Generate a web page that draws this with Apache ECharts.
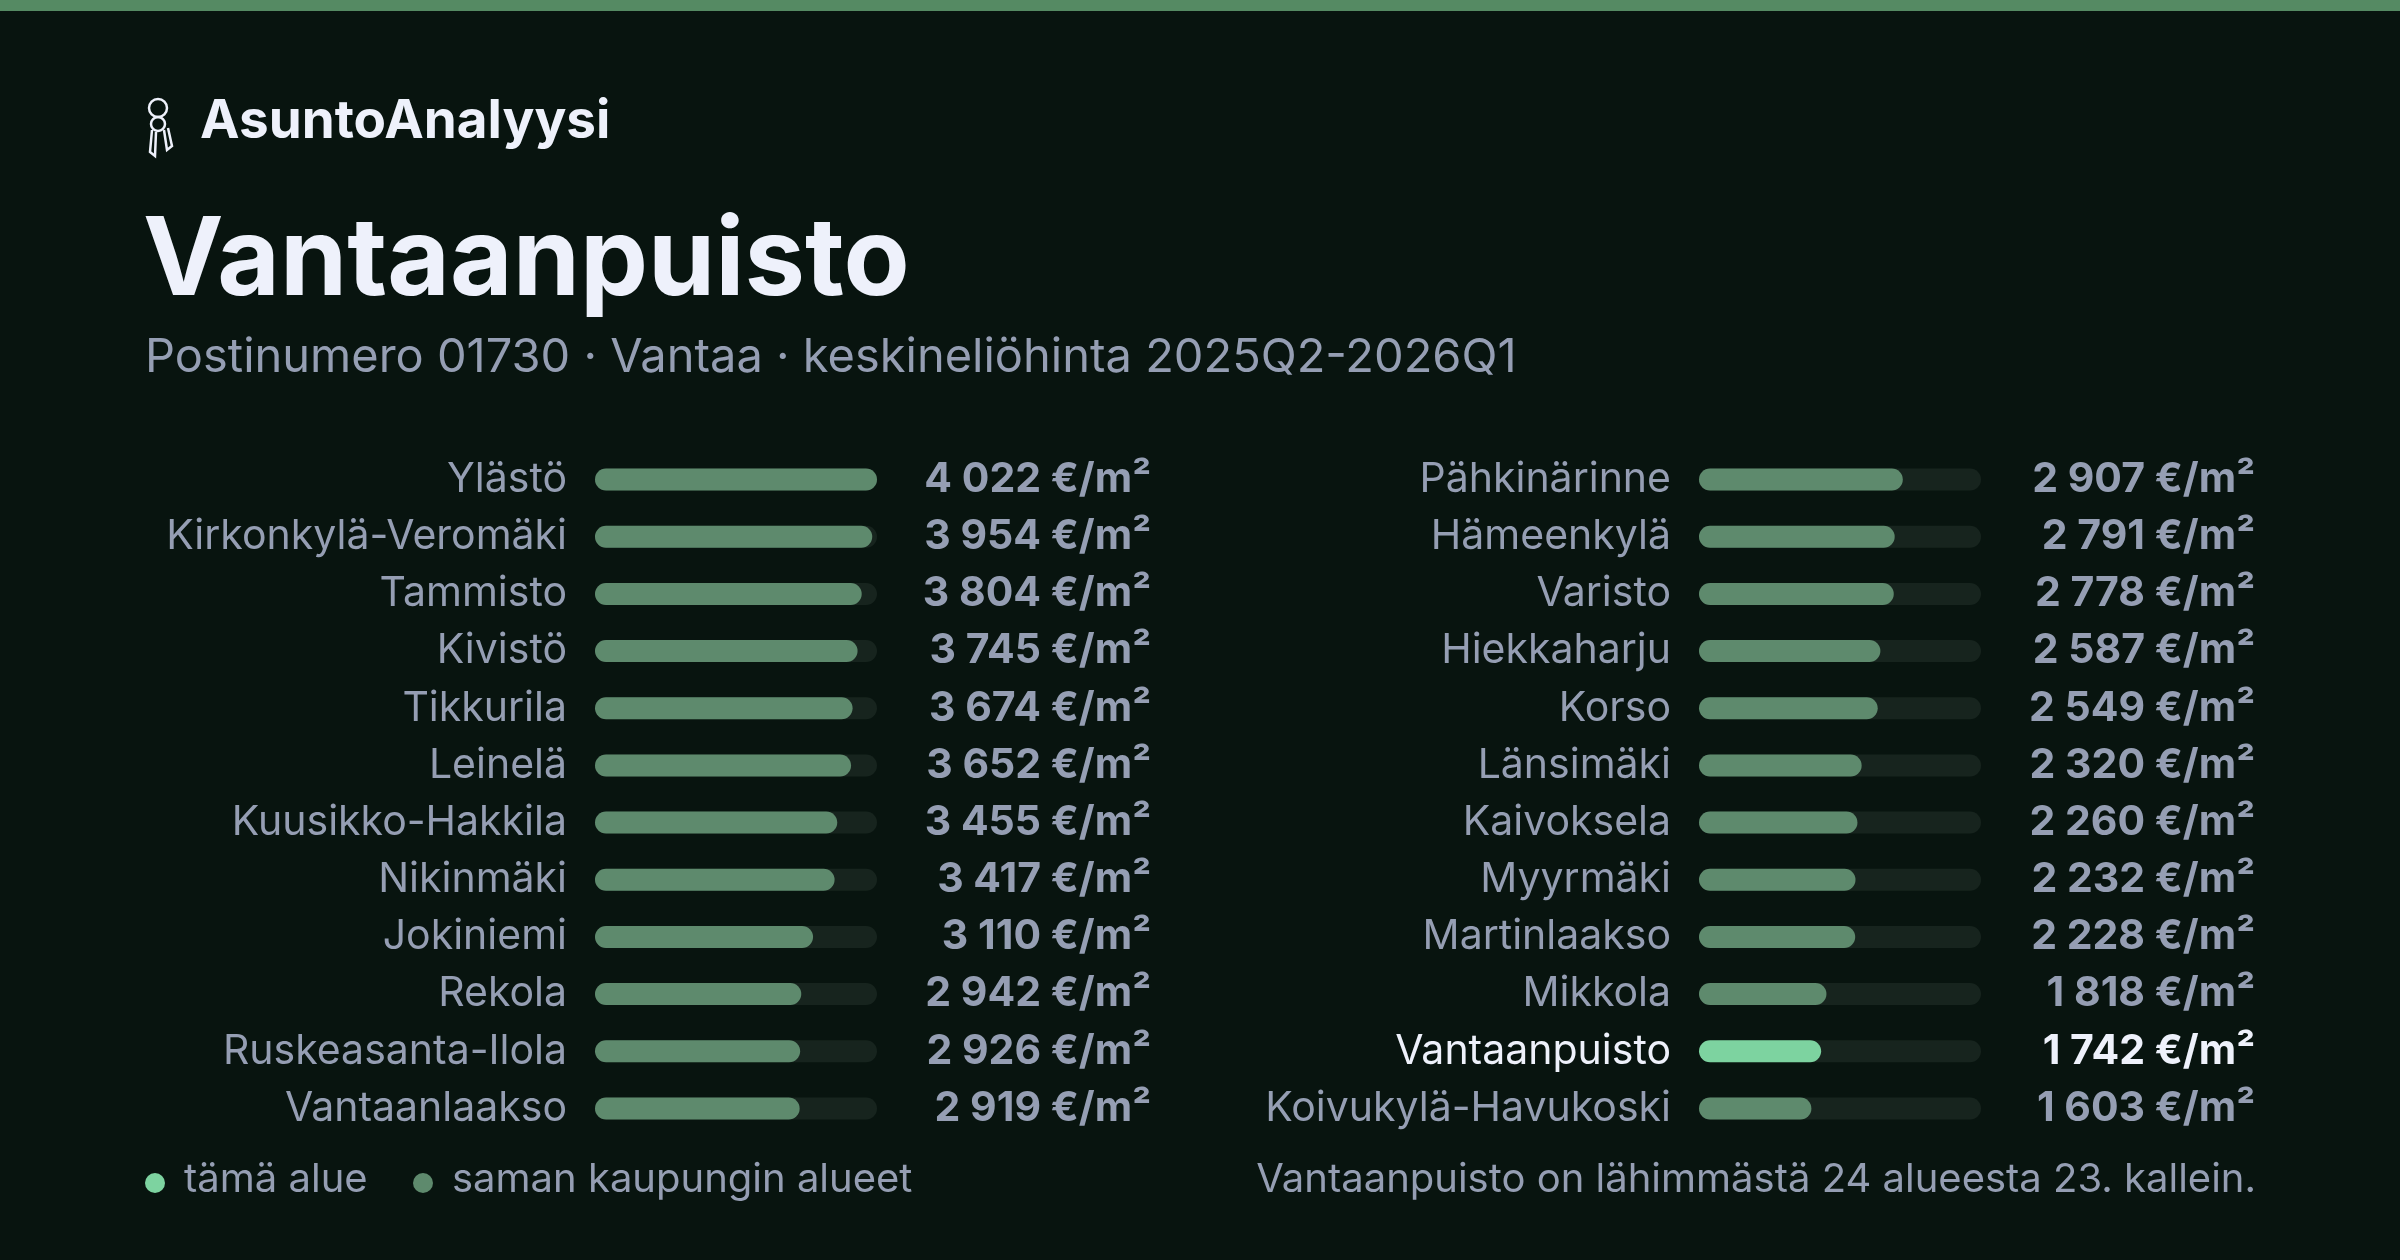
<!DOCTYPE html>
<html>
<head>
<meta charset="utf-8">
<script src="https://cdn.jsdelivr.net/npm/echarts@6/dist/echarts.min.js"></script>
<style>
  html, body { margin: 0; padding: 0; background: #08140f; }
  #main { width: 2400px; height: 1260px; }
</style>
</head>
<body>
<div id="main"></div>
<script>
// data
const leftNames = ['Ylästö', 'Kirkonkylä-Veromäki', 'Tammisto', 'Kivistö', 'Tikkurila', 'Leinelä',
  'Kuusikko-Hakkila', 'Nikinmäki', 'Jokiniemi', 'Rekola', 'Ruskeasanta-Ilola', 'Vantaanlaakso'];
const leftValues = [4022, 3954, 3804, 3745, 3674, 3652, 3455, 3417, 3110, 2942, 2926, 2919];
const rightNames = ['Pähkinärinne', 'Hämeenkylä', 'Varisto', 'Hiekkaharju', 'Korso', 'Länsimäki',
  'Kaivoksela', 'Myyrmäki', 'Martinlaakso', 'Mikkola', 'Vantaanpuisto', 'Koivukylä-Havukoski'];
const rightValues = [2907, 2791, 2778, 2587, 2549, 2320, 2260, 2232, 2228, 1818, 1742, 1603];
const current = 'Vantaanpuisto';
const maxValue = 4022;

const FONT = 'Inter, "Noto Sans", sans-serif';
const GREY = '#959eb3';
const WHITE = '#eef1fb';
const BAR = '#5e8a6d';
const HL = '#7dd3a0';
const TRACK = '#17241e';

const fmt = v => String(v).replace(/\B(?=(\d{3})+(?!\d))/g, ' ') + ' €/m²';

const chart = echarts.init(document.getElementById('main'));

function column(idx, names, values, left) {
  const valTexts = values.map(fmt);
  return {
    grid: { left: left, width: 282, top: 451, height: 686, containLabel: false },
    xAxis: { gridIndex: idx, type: 'value', min: 0, max: maxValue, show: false },
    yAxes: [
      {
        gridIndex: idx, type: 'category', data: names, inverse: true,
        axisLine: { show: false }, axisTick: { show: false }, splitLine: { show: false },
        axisLabel: {
          margin: 28, fontFamily: FONT, fontSize: 41,
          formatter: v => v === current ? '{hl|' + v + '}' : '{n|' + v + '}',
          rich: {
            n: { color: GREY, fontSize: 41, fontFamily: FONT },
            hl: { color: WHITE, fontSize: 41, fontFamily: FONT }
          }
        }
      },
      {
        gridIndex: idx, type: 'category', data: valTexts, inverse: true, position: 'right',
        axisLine: { show: false }, axisTick: { show: false }, splitLine: { show: false },
        axisLabel: {
          margin: 274, align: 'right', fontFamily: FONT, fontSize: 41, fontWeight: 'bold',
          formatter: (v, i) => names[i] === current ? '{hl|' + v + '}' : '{n|' + v + '}',
          rich: {
            n: { color: GREY, fontSize: 41, fontWeight: 'bold', fontFamily: FONT },
            hl: { color: WHITE, fontSize: 41, fontWeight: 'bold', fontFamily: FONT }
          }
        }
      }
    ],
    series: {
      type: 'bar', xAxisIndex: idx, yAxisIndex: idx * 2, barWidth: 22,
      showBackground: true,
      backgroundStyle: { color: TRACK, borderRadius: 11 },
      itemStyle: { borderRadius: 11 },
      data: values.map((v, i) => ({
        value: v, itemStyle: { color: names[i] === current ? HL : BAR }
      })),
      silent: true, animation: false
    }
  };
}

const c1 = column(0, leftNames, leftValues, 595);
const c2 = column(1, rightNames, rightValues, 1699);

chart.setOption({
  backgroundColor: '#08140f',
  animation: false,
  grid: [c1.grid, c2.grid],
  xAxis: [c1.xAxis, c2.xAxis],
  yAxis: [...c1.yAxes, ...c2.yAxes],
  series: [c1.series, c2.series],
  graphic: [
    { type: 'rect', shape: { x: 0, y: 0, width: 2400, height: 11 }, style: { fill: '#558a63' } },
    // keys icon
    { type: 'circle', shape: { cx: 158, cy: 108, r: 9 }, style: { fill: 'none', stroke: WHITE, lineWidth: 2.5 } },
    { type: 'circle', shape: { cx: 158, cy: 124, r: 7 }, style: { fill: 'none', stroke: WHITE, lineWidth: 2.5 } },
    { type: 'polyline', shape: { points: [[152, 130], [150, 152], [155, 156], [156, 132]] }, style: { fill: 'none', stroke: WHITE, lineWidth: 2.5 } },
    { type: 'polyline', shape: { points: [[164, 130], [167, 150], [172, 146], [168, 128]] }, style: { fill: 'none', stroke: WHITE, lineWidth: 2.5 } },
    { type: 'text', left: 200, top: 96, style: { text: 'AsuntoAnalyysi', fill: WHITE, font: 'bold 53px ' + FONT } },
    { type: 'text', left: 143, top: 209, style: { text: 'Vantaanpuisto', fill: WHITE, font: 'bold 108px ' + FONT } },
    { type: 'text', left: 145, top: 334, style: { text: 'Postinumero 01730 · Vantaa · keskineliöhinta 2025Q2-2026Q1', fill: GREY, font: '47px ' + FONT } },
    { type: 'circle', shape: { cx: 155, cy: 1183, r: 10 }, style: { fill: HL } },
    { type: 'text', left: 184, top: 1160, style: { text: 'tämä alue', fill: GREY, font: '40px ' + FONT } },
    { type: 'circle', shape: { cx: 423, cy: 1183, r: 10 }, style: { fill: BAR } },
    { type: 'text', left: 452, top: 1160, style: { text: 'saman kaupungin alueet', fill: GREY, font: '40px ' + FONT } },
    { type: 'text', right: 144, top: 1160, style: { text: 'Vantaanpuisto on lähimmästä 24 alueesta 23. kallein.', fill: GREY, font: '40px ' + FONT, textAlign: 'right' } }
  ]
});
</script>
</body>
</html>
